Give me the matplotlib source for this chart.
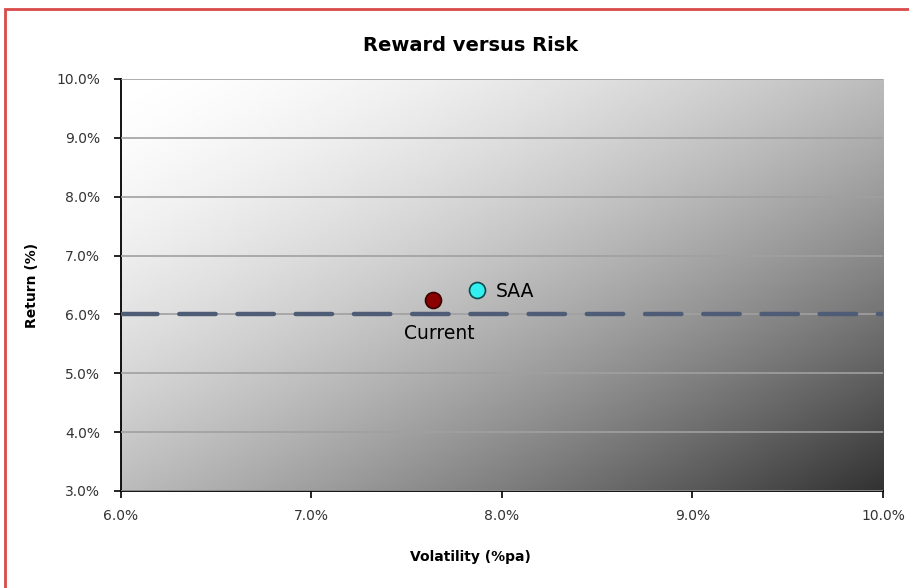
import numpy as np
import matplotlib.pyplot as plt
from matplotlib.patches import Rectangle
from matplotlib.ticker import FuncFormatter

# portfolio points: volatility (%pa) and return (%)
names = ["Current", "SAA"]
volatility = [7.64, 7.87]
returns = [6.24, 6.42]
point_colors = ["#8b0000", "#33f0f0"]
edge_colors = ["#3a0000", "#0a4a4a"]
target_return = 6.0

x_ticks = [6.0, 7.0, 8.0, 9.0, 10.0]
y_ticks = [3.0, 4.0, 5.0, 6.0, 7.0, 8.0, 9.0, 10.0]

fig = plt.figure(figsize=(9.09, 5.88), dpi=100)
ax = fig.add_axes([0.1331, 0.165, 0.8383, 0.7007])

# diagonal grey gradient, white top-left to dark bottom-right
nx, ny = 400, 220
u = np.linspace(0, 1, nx)[None, :]
v = np.linspace(0, 1, ny)[:, None]
t = (u + v) / 2
shade = (255 - 205 * t ** 1.6) / 255
ax.imshow(shade, cmap="gray", vmin=0, vmax=1, extent=[6, 10, 3, 10],
          origin="upper", aspect="auto", zorder=0, interpolation="bilinear")

ax.set_xlim(6, 10)
ax.set_ylim(3, 10)
ax.set_xticks(x_ticks)
ax.set_yticks(y_ticks)
pct = FuncFormatter(lambda val, pos: f"{val:.1f}%")
ax.xaxis.set_major_formatter(pct)
ax.yaxis.set_major_formatter(pct)
ax.tick_params(direction="out", length=5, width=1.2, labelsize=10,
               colors="black", labelcolor="#333333")
ax.tick_params(axis="x", pad=8)
ax.tick_params(axis="y", pad=10)
ax.grid(axis="y", color="#a0a0a0", linewidth=1.2)
ax.set_axisbelow(False)
for side in ["top", "right"]:
    ax.spines[side].set_visible(False)
for side in ["left", "bottom"]:
    ax.spines[side].set_linewidth(1.3)
    ax.spines[side].set_color("black")

# target return line
ax.axhline(target_return, color="#4e5d75", linewidth=3.2, linestyle=(0, (8.2, 4.9)),
           dash_capstyle="round", zorder=3)

for x, y, c, ec in zip(volatility, returns, point_colors, edge_colors):
    ax.plot(x, y, "o", ms=11.5, color=c, markeredgecolor=ec,
            markeredgewidth=1.2, zorder=4)

ax.annotate(names[0], (volatility[0], returns[0]), xytext=(4, -24),
            textcoords="offset points", ha="center", va="center", fontsize=13.5)
ax.annotate(names[1], (volatility[1], returns[1]), xytext=(13, -1),
            textcoords="offset points", ha="left", va="center", fontsize=13.5)

fig.text(0.518, 0.923, "Reward versus Risk", ha="center", va="center",
         fontsize=14, fontweight="bold")
fig.text(0.518, 0.053, "Volatility (%pa)", ha="center", va="center",
         fontsize=10, fontweight="bold")
fig.text(0.035, 0.515, "Return (%)", ha="center", va="center",
         rotation=90, fontsize=10, fontweight="bold")

# red outline around the chart area
fig.patches.append(Rectangle((0.006, -0.05), 1.1, 1.0355, fill=False,
                             edgecolor="#d94a4a", linewidth=2,
                             transform=fig.transFigure, figure=fig))

fig.savefig("out.png", dpi=100, facecolor="white")
